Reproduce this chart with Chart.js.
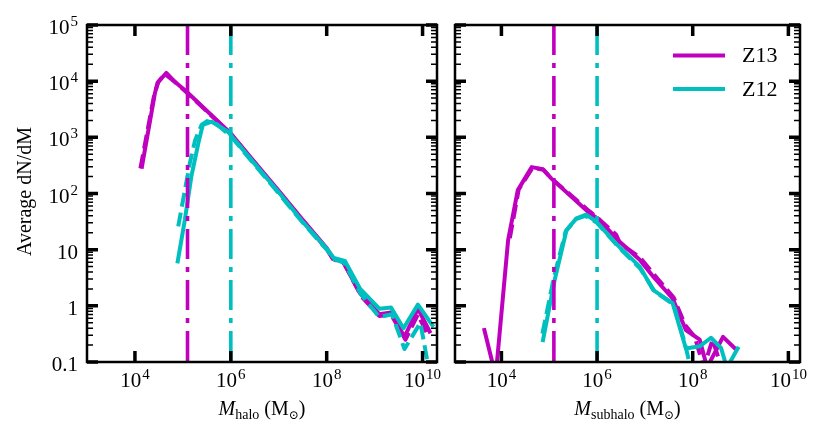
<!DOCTYPE html>
<html><head><meta charset="utf-8">
<script src="https://cdn.jsdelivr.net/npm/chart.js@4"></script>
<style>
html,body{margin:0;padding:0;background:#fff;}
#wrap{position:relative;width:827px;height:437px;overflow:hidden;background:#fff}
canvas{position:absolute;top:0}
</style></head><body>
<div id="wrap">
<canvas id="c1" width="446" height="437" style="left:0px"></canvas>
<canvas id="c2" width="381" height="437" style="left:446px"></canvas>
</div>
<script>
// ---------- data ----------
const seriesNames = ['Z13', 'Z12'];
const resolutionMass = [1.25e5, 1e6];          // dash-dot vertical lines (Z13, Z12)
const yRange = [0.1, 1e5];
const haloXRange = [1e3, 2e10];
const subXRange = [1.07e3, 1.75e10];
const xTickValues = [1e4, 1e6, 1e8, 1e10];
const xTickExp = ['4', '6', '8', '10'];
const yTickValues = [0.1, 1, 10, 100, 1e3, 1e4, 1e5];
const yTickBase = ['0.1', '1', '10', '10', '10', '10', '10'];
const yTickExp = ['', '', '', '2', '3', '4', '5'];
const axisTitles = ['halo', 'subhalo'];
const yTitle = 'Average dN/dM';

// left panel: halo mass function
const haloZ13SolidX = [1.4e4, 2.6e4, 2.95e4, 4.5e4, 6.6e4, 1.2e5, 1e6, 3e6, 1e7, 3e7, 1e8, 1.35e8, 2.2e8, 5e8, 1.25e9, 2.2e9, 4.2e9, 8e9, 1.4e10];
const haloZ13SolidY = [300, 6000, 9300, 14000, 10000, 6500, 1170, 380, 112, 36, 10.7, 7.1, 6.0, 1.66, 0.71, 0.76, 0.28, 0.89, 0.35];
const haloZ13DashX = [1.3e4, 2.5e4, 3.1e4, 4.2e4, 7e4, 1.2e5, 1e6, 3e6, 1e7, 3e7, 1e8, 1.35e8, 2.3e8, 5.2e8, 1.25e9, 2.2e9, 4.4e9, 8e9, 1.3e10];
const haloZ13DashY = [280, 5500, 9800, 13500, 9500, 6300, 1150, 370, 108, 35, 10.2, 6.8, 5.8, 1.5, 0.66, 0.7, 0.25, 0.7, 0.3];
const haloZ12SolidX = [7.8e4, 1.1e5, 1.5e5, 2.1e5, 2.6e5, 4e5, 8.7e5, 3e6, 1e7, 3e7, 1e8, 1.4e8, 2.4e8, 5e8, 1.25e9, 2.2e9, 4e9, 8e9, 1.6e10];
const haloZ12SolidY = [6.2, 34, 200, 780, 1660, 1900, 1260, 355, 105, 33, 10.5, 7.1, 6.3, 2.0, 0.89, 0.93, 0.4, 1.05, 0.45];
const haloZ12DashX = [8e4, 1.4e5, 1.8e5, 2.45e5, 3.2e5, 5e5, 1e6, 3e6, 1e7, 3e7, 1e8, 1.4e8, 2.3e8, 5.2e8, 1.25e9, 2.3e9, 4.2e9, 9e9, 1.3e10];
const haloZ12DashY = [26, 350, 890, 1660, 1950, 1740, 1050, 340, 100, 32, 10, 6.8, 5.9, 1.6, 0.63, 0.71, 0.17, 0.5, 0.09];

// right panel: subhalo mass function
const subZ13SolidX = [4.4e3, 7.6e3, 1.38e4, 2.2e4, 4.3e4, 7.4e4, 1.1e5, 6.9e5, 1.12e6, 2.7e6, 7.8e6, 1.5e7, 3.8e7, 7.2e7, 1.4e8, 2e8, 4.3e8, 7.9e8];
const subZ13SolidY = [0.37, 0.056, 14.8, 115, 295, 270, 186, 45, 34, 14.8, 6.6, 3.3, 1.35, 0.37, 0.25, 0.08, 0.28, 0.17];
const subZ13DashX = [1.5e4, 2.3e4, 4.5e4, 7.5e4, 1.1e5, 7e5, 1.1e6, 2.5e6, 3e6, 8e6, 1.6e7, 4e7, 7e7, 1.1e8, 1.7e8, 2.6e8, 4e8];
const subZ13DashY = [16, 118, 290, 265, 186, 48, 35, 18.5, 13, 7.2, 3.5, 1.4, 0.45, 0.28, 0.08, 0.25, 0.08];
const subZ12SolidX = [7.4e4, 1.3e5, 2.3e5, 3.7e5, 5.9e5, 9.5e5, 2.7e6, 7.8e6, 1.5e7, 3.8e7, 7.2e7, 1.4e8, 2.4e8, 3.9e8, 5.2e8, 8.7e8];
const subZ12SolidY = [0.245, 2.9, 22.4, 36, 42, 32, 12, 5.0, 1.9, 1.12, 0.174, 0.19, 0.27, 0.178, 0.079, 0.174];
const subZ12DashX = [7.2e4, 1.25e5, 2.2e5, 3.6e5, 5.7e5, 1e6, 2.8e6, 8e6, 1.6e7, 4e7, 6.8e7, 9e7];
const subZ12DashY = [0.32, 3.2, 21, 35, 40, 30, 11.2, 4.6, 1.8, 1.05, 0.22, 0.08];

// ---------- styling ----------
const MAG = '#bf00bf', CYAN = '#00bfbf';
const FONT = '"Liberation Serif", "DejaVu Serif", serif';
const seriesColors = [MAG, CYAN];

function pts(xs, ys) { return xs.map((x, i) => ({ x: x, y: ys[i] })); }

function lineDs(label, xs, ys, color, dashed, order) {
  return {
    label: label, data: pts(xs, ys), borderColor: color, backgroundColor: color,
    borderWidth: 4, borderDash: dashed ? [14, 6] : [], fill: false, pointRadius: 0,
    borderCapStyle: dashed ? 'butt' : 'square', borderJoinStyle: 'round',
    tension: 0, clip: 0, order: order
  };
}
function vlineDs(x, color) {
  return {
    label: '', data: [{ x: x, y: yRange[1] }, { x: x, y: yRange[0] }], borderColor: color,
    borderWidth: 3.6, borderDash: [30, 8, 5, 8], fill: false, pointRadius: 0,
    borderCapStyle: 'butt', tension: 0, clip: 0, order: 0
  };
}

function drawSup(ctx, base, exp, x, y, align) {
  ctx.font = '21px ' + FONT;
  const wb = ctx.measureText(base).width;
  ctx.font = '15px ' + FONT;
  const we = exp ? ctx.measureText(exp).width + 1 : 0;
  const total = wb + we;
  const x0 = align === 'right' ? x - total : (align === 'center' ? x - total / 2 : x);
  ctx.textAlign = 'left'; ctx.textBaseline = 'alphabetic';
  ctx.font = '21px ' + FONT;
  ctx.fillText(base, x0, y);
  if (exp) { ctx.font = '15px ' + FONT; ctx.fillText(exp, x0 + wb + 1, y - 8); }
}

function drawXTitle(ctx, sub, cx, y) {
  const parts = [
    { t: 'M', f: 'italic 20px ' + FONT, dy: 0 },
    { t: sub, f: '14px ' + FONT, dy: 4 },
    { t: ' (M', f: '20px ' + FONT, dy: 0 },
    { t: '\u2299', f: '12px ' + FONT, dy: 4 },
    { t: ')', f: '20px ' + FONT, dy: 0 }
  ];
  let total = 0;
  parts.forEach(p => { ctx.font = p.f; p.w = ctx.measureText(p.t).width; total += p.w; });
  let x = cx - total / 2;
  ctx.textAlign = 'left'; ctx.textBaseline = 'alphabetic';
  parts.forEach(p => { ctx.font = p.f; ctx.fillText(p.t, x, y + p.dy); x += p.w; });
}

const deco = {
  id: 'panelDeco',
  afterDatasetsDraw(chart, args, opts) {
    const ctx = chart.ctx, a = chart.chartArea, xs = chart.scales.x, ys = chart.scales.y;
    ctx.save();
    ctx.strokeStyle = '#000'; ctx.fillStyle = '#000';
    // y ticks (major + minor), both sides, inward
    for (let e = -1; e <= 5; e++) {
      for (let k = 1; k <= 9; k++) {
        const v = k * Math.pow(10, e);
        if (v < yRange[0] * 0.999 || v > yRange[1] * 1.001) continue;
        const py = ys.getPixelForValue(v);
        const major = k === 1;
        const len = major ? 11 : 6;
        ctx.lineWidth = major ? 3.5 : 1.5;
        ctx.beginPath();
        ctx.moveTo(a.left, py); ctx.lineTo(a.left + len, py);
        ctx.moveTo(a.right, py); ctx.lineTo(a.right - len, py);
        ctx.stroke();
      }
    }
    // x ticks, top and bottom
    xs.ticks.forEach(t => {
      const px = xs.getPixelForValue(t.value);
      if (px < a.left - 1 || px > a.right + 1) return;
      ctx.lineWidth = 3.5;
      ctx.beginPath();
      ctx.moveTo(px, a.top); ctx.lineTo(px, a.top + 11);
      ctx.moveTo(px, a.bottom); ctx.lineTo(px, a.bottom - 11);
      ctx.stroke();
    });
    // frame
    ctx.lineWidth = 2.5;
    ctx.strokeRect(a.left, a.top, a.right - a.left, a.bottom - a.top);
    // x tick labels
    xs.ticks.forEach(t => {
      const px = xs.getPixelForValue(t.value);
      drawSup(ctx, '10', xTickExp[xTickValues.indexOf(t.value)], px, 387, 'center');
    });
    // x title
    drawXTitle(ctx, opts.sub, (a.left + a.right) / 2, 415);
    if (opts.yLabels) {
      ys.ticks.forEach(t => {
        const i = yTickValues.indexOf(t.value);
        if (i < 0) return;
        const py = ys.getPixelForValue(t.value);
        drawSup(ctx, yTickBase[i], yTickExp[i], a.left - 9, py + 9, 'right');
      });
      ctx.save();
      ctx.translate(31, (a.top + a.bottom) / 2 - 2);
      ctx.rotate(-Math.PI / 2);
      ctx.font = '20px ' + FONT;
      ctx.textAlign = 'center'; ctx.textBaseline = 'alphabetic';
      ctx.fillText(yTitle, 0, 0);
      ctx.restore();
    }
    if (opts.legend) {
      seriesNames.forEach((name, i) => {
        const y = a.top + 30.5 + i * 33.5;
        ctx.strokeStyle = seriesColors[i]; ctx.lineWidth = 4; ctx.lineCap = 'butt';
        ctx.beginPath(); ctx.moveTo(a.right - 127, y); ctx.lineTo(a.right - 75, y); ctx.stroke();
        ctx.fillStyle = '#000';
        ctx.font = '22px ' + FONT; ctx.textAlign = 'left'; ctx.textBaseline = 'middle';
        ctx.fillText(name, a.right - 58, y + 1);
      });
    }
    ctx.restore();
  }
};

function makeChart(id, xRange, datasets, o) {
  return new Chart(document.getElementById(id), {
    type: 'line',
    data: { datasets: datasets },
    options: {
      responsive: false, animation: false, devicePixelRatio: 1,
      layout: { padding: { left: 0, right: o.padRight, top: 25, bottom: 0 }, autoPadding: false },
      events: [],
      plugins: { legend: { display: false }, tooltip: { enabled: false }, panelDeco: o },
      scales: {
        x: {
          type: 'logarithmic', min: xRange[0], max: xRange[1],
          grid: { display: false }, border: { display: false }, ticks: { display: false },
          afterBuildTicks: s => { s.ticks = xTickValues.map(v => ({ value: v })); },
          afterFit: s => { s.height = 75; }
        },
        y: {
          type: 'logarithmic', min: yRange[0], max: yRange[1],
          grid: { display: false }, border: { display: false }, ticks: { display: false },
          afterBuildTicks: s => { s.ticks = yTickValues.map(v => ({ value: v })); },
          afterFit: s => { s.width = o.yWidth; }
        }
      }
    },
    plugins: [deco]
  });
}

makeChart('c1', haloXRange, [
  vlineDs(resolutionMass[0], MAG),
  vlineDs(resolutionMass[1], CYAN),
  lineDs('Z12', haloZ12SolidX, haloZ12SolidY, CYAN, false, 1),
  lineDs('Z12 dashed', haloZ12DashX, haloZ12DashY, CYAN, true, 2),
  lineDs('Z13 dashed', haloZ13DashX, haloZ13DashY, MAG, true, 3),
  lineDs('Z13', haloZ13SolidX, haloZ13SolidY, MAG, false, 4)
], { padRight: 9, yWidth: 87, sub: axisTitles[0], yLabels: true, legend: false });

makeChart('c2', subXRange, [
  vlineDs(resolutionMass[0], MAG),
  vlineDs(resolutionMass[1], CYAN),
  lineDs('Z12', subZ12SolidX, subZ12SolidY, CYAN, false, 1),
  lineDs('Z12 dashed', subZ12DashX, subZ12DashY, CYAN, true, 2),
  lineDs('Z13 dashed', subZ13DashX, subZ13DashY, MAG, true, 3),
  lineDs('Z13', subZ13SolidX, subZ13SolidY, MAG, false, 4)
], { padRight: 27, yWidth: 9, sub: axisTitles[1], yLabels: false, legend: true });
</script>
</body></html>
